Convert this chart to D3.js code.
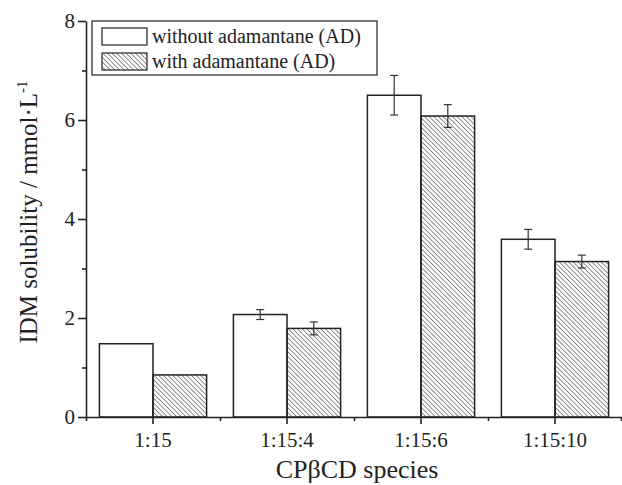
<!DOCTYPE html>
<html lang="en">
<head>
<meta charset="utf-8">
<title>IDM solubility</title>
<script src="https://cdn.jsdelivr.net/npm/d3@7"></script>
<style>
  body { margin: 0; background: #fff; }
  .axis path, .axis line { stroke: #222; stroke-width: 1.6; }
</style>
</head>
<body>
<script>
// data
var species = ["1:15", "1:15:4", "1:15:6", "1:15:10"];
var series = ["without adamantane (AD)", "with adamantane (AD)"];
var withoutAD = [1.48, 2.07, 6.50, 3.59];
var withoutErr = [0, 0.10, 0.40, 0.20];
var withAD = [0.85, 1.79, 6.08, 3.14];
var withErr = [0, 0.13, 0.23, 0.13];
var yTicks = [0, 2, 4, 6, 8];
var yMinor = [1, 3, 5, 7];

var W = 622, H = 485;
var mLeft = 86, mRight = 622, mTop = 21, mBottom = 417;
var FONT = "'Liberation Serif', 'Times New Roman', Times, serif";

var svg = d3.select("body").append("svg")
    .attr("width", W).attr("height", H)
    .attr("font-family", FONT);

var defs = svg.append("defs");
defs.append("pattern")
    .attr("id", "hatch")
    .attr("patternUnits", "userSpaceOnUse")
    .attr("width", 3.3).attr("height", 3.3)
    .attr("patternTransform", "rotate(-45)")
  .append("line")
    .attr("x1", 0).attr("y1", 0).attr("x2", 0).attr("y2", 3.3)
    .attr("stroke", "#333").attr("stroke-width", 1.1);

var x = d3.scaleBand().domain(species).range([mLeft, mRight]).padding(0);
var x1 = d3.scaleBand().domain(series)
    .range([x.bandwidth() * 0.1, x.bandwidth() * 0.9]).padding(0);
var y = d3.scaleLinear().domain([0, 8]).range([mBottom, mTop]);

var rows = species.map(function(s, i) {
  return [
    {cat: s, key: series[0], v: withoutAD[i], e: withoutErr[i], fill: "#fff"},
    {cat: s, key: series[1], v: withAD[i], e: withErr[i], fill: "url(#hatch)"}
  ];
});

var groups = svg.selectAll("g.grp")
    .data(rows)
  .enter().append("g")
    .attr("class", "grp")
    .attr("transform", function(d) { return "translate(" + x(d[0].cat) + ",0)"; });

groups.selectAll("rect")
    .data(function(d) { return d; })
  .enter().append("rect")
    .attr("x", function(d) { return x1(d.key); })
    .attr("width", x1.bandwidth())
    .attr("y", function(d) { return y(d.v); })
    .attr("height", function(d) { return mBottom - y(d.v); })
    .attr("fill", function(d) { return d.fill; })
    .attr("stroke", "#222")
    .attr("stroke-width", 1.5);

// error bars
var eb = groups.selectAll("g.err")
    .data(function(d) { return d.filter(function(r) { return r.e > 0; }); })
  .enter().append("g")
    .attr("class", "err")
    .attr("stroke", "#333").attr("stroke-width", 1.2);
function cx(d) { return x1(d.key) + x1.bandwidth() / 2; }
eb.append("line")
    .attr("x1", cx).attr("x2", cx)
    .attr("y1", function(d) { return y(d.v + d.e); })
    .attr("y2", function(d) { return y(d.v - d.e); });
eb.append("line")
    .attr("x1", function(d) { return cx(d) - 4; }).attr("x2", function(d) { return cx(d) + 4; })
    .attr("y1", function(d) { return y(d.v + d.e); })
    .attr("y2", function(d) { return y(d.v + d.e); });
eb.append("line")
    .attr("x1", function(d) { return cx(d) - 4; }).attr("x2", function(d) { return cx(d) + 4; })
    .attr("y1", function(d) { return y(d.v - d.e); })
    .attr("y2", function(d) { return y(d.v - d.e); });

function styleTicks(g) {
  g.attr("font-family", null).attr("font-size", null);
  g.selectAll("text").style("font-size", "21px").style("font-family", FONT).attr("fill", "#222");
}

// y axis
svg.append("g")
    .attr("class", "axis")
    .attr("transform", "translate(" + mLeft + ",0)")
    .call(d3.axisLeft(y).tickValues(yTicks).tickSize(8).tickPadding(3).tickSizeOuter(0))
    .call(styleTicks);
svg.append("g")
    .attr("class", "axis")
    .attr("transform", "translate(" + mLeft + ",0)")
    .call(d3.axisLeft(y).tickValues(yMinor).tickSize(4).tickFormat("").tickSizeOuter(0))
    .call(function(g) { g.select(".domain").remove(); });

// x axis
svg.append("g")
    .attr("class", "axis")
    .attr("transform", "translate(0," + mBottom + ")")
    .call(d3.axisBottom(x).tickSize(7).tickPadding(8).tickSizeOuter(0))
    .call(styleTicks);
var bounds = species.map(function(s) { return x(s); }).concat([mRight - 1]);
var xb = d3.scaleLinear().domain([mLeft, mRight]).range([mLeft, mRight]);
svg.append("g")
    .attr("class", "axis")
    .attr("transform", "translate(0," + mBottom + ")")
    .call(d3.axisBottom(xb).tickValues(bounds).tickSize(4).tickFormat("").tickSizeOuter(0))
    .call(function(g) { g.select(".domain").remove(); });

// axis titles
svg.append("text")
    .attr("x", 357)
    .attr("y", 478)
    .attr("text-anchor", "middle")
    .attr("fill", "#222")
    .style("font-family", FONT)
    .style("font-size", "26px")
    .text("CPβCD species");

var yt = svg.append("text")
    .attr("transform", "translate(37,212) rotate(-90)")
    .attr("text-anchor", "middle")
    .attr("fill", "#222")
    .style("font-family", FONT)
    .style("font-size", "25px");
yt.append("tspan").text("IDM solubility / mmol·L");
yt.append("tspan").attr("dy", -10).style("font-size", "15px").text("-1");

// legend
var lg = svg.append("g").attr("transform", "translate(92,21)");
lg.append("rect")
    .attr("width", 285).attr("height", 54)
    .attr("fill", "#fff").attr("stroke", "#222").attr("stroke-width", 1.2);
var items = lg.selectAll("g.item")
    .data(series)
  .enter().append("g")
    .attr("class", "item")
    .attr("transform", function(d, i) { return "translate(10," + (7 + i * 25) + ")"; });
items.append("rect")
    .attr("width", 45).attr("height", 17)
    .attr("fill", function(d, i) { return i === 0 ? "#fff" : "url(#hatch)"; })
    .attr("stroke", "#222").attr("stroke-width", 1.2);
items.append("text")
    .attr("x", 50).attr("y", 15)
    .attr("fill", "#222")
    .style("font-family", FONT)
    .style("font-size", "20px")
    .text(function(d) { return d; });
</script>
</body>
</html>
